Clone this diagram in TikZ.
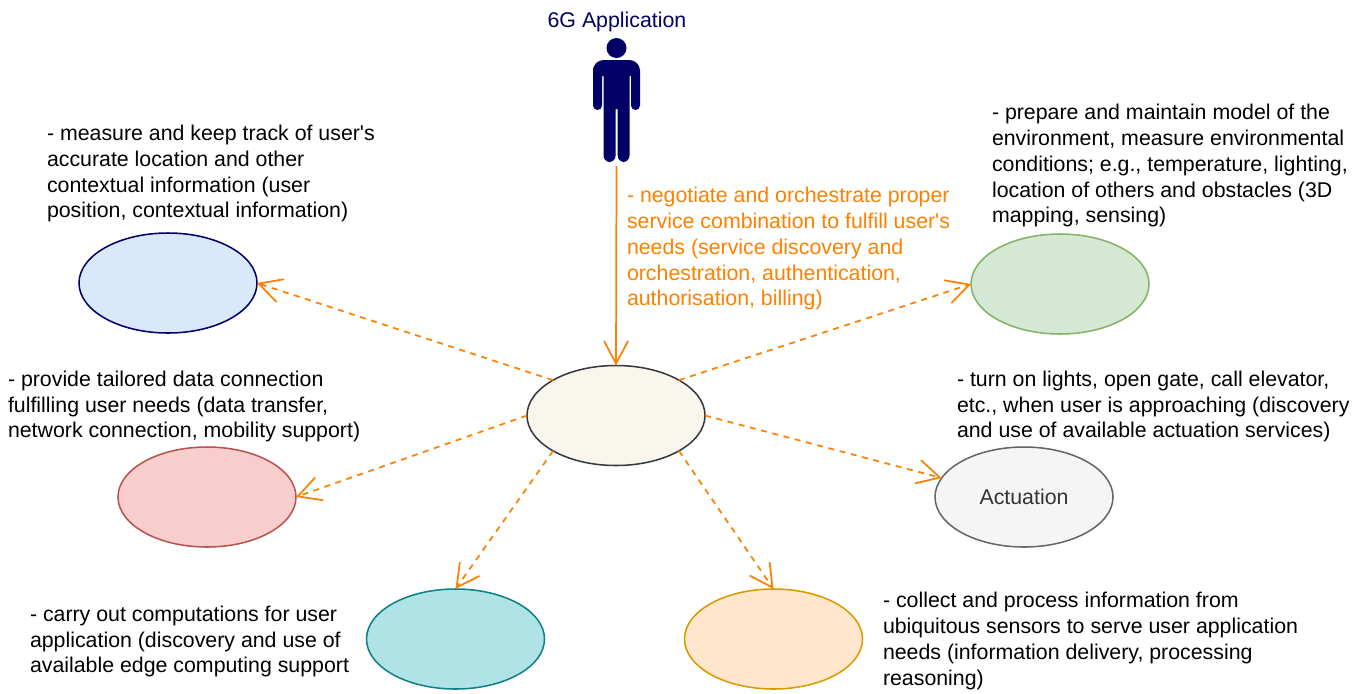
\documentclass[tikz,border=0pt]{standalone}
\usepackage{fontspec}
\setmainfont{Liberation Sans}[Ligatures=TeXOff]
\usetikzlibrary{shapes.geometric,arrows.meta}
\definecolor{navyc}{HTML}{000066}
\definecolor{orng}{HTML}{FF8000}
\tikzset{
  x=0.75pt,y=-0.75pt,
  blob/.style={ellipse,draw,line width=1.15pt,minimum width=133.5pt,minimum height=75pt,inner sep=0pt,outer sep=0pt},
  txt/.style={anchor=north west,align=left,inner sep=0pt,outer sep=0pt,font=\fontsize{16}{19.3}\selectfont,text=black},
  link/.style={draw=orng,line width=1.3pt,-{Straight Barb[length=17pt,width=18pt,line width=1.3pt]}},
  dlink/.style={link,dash pattern=on 4.5pt off 4.2pt},
}
\begin{document}
\begin{tikzpicture}
\useasboundingbox (0,0) rectangle (1362,693);
% ellipses
\node[blob,draw=navyc,fill={rgb,255:red,218;green,232;blue,252}] (loc) at (168,283) {};
\node[blob,draw={rgb,255:red,130;green,179;blue,102},fill={rgb,255:red,213;green,232;blue,212}] (env) at (1060,284) {};
\node[blob,draw={rgb,255:red,54;green,57;blue,61},fill={rgb,255:red,249;green,247;blue,237}] (core) at (616,415.5) {};
\node[blob,draw={rgb,255:red,184;green,84;blue,80},fill={rgb,255:red,248;green,206;blue,204}] (conn) at (207,497) {};
\node[blob,draw={rgb,255:red,102;green,102;blue,102},fill={rgb,255:red,245;green,245;blue,245},text={rgb,255:red,51;green,51;blue,51},font=\fontsize{16}{19}\selectfont] (act) at (1024,497) {Actuation};
\node[blob,draw={rgb,255:red,14;green,128;blue,136},fill={rgb,255:red,176;green,227;blue,230}] (edge) at (455.5,639) {};
\node[blob,draw={rgb,255:red,215;green,155;blue,0},fill={rgb,255:red,255;green,230;blue,204}] (sens) at (773.5,639) {};
% person
\fill[navyc] (616.5,48) circle[radius=10];
\fill[navyc,rounded corners=3.4pt]
  (593,72) [rounded corners=8pt] -- (593,60) -- (640,60) [rounded corners=3.4pt] -- (640,110) -- (631,110) [sharp corners] -- (631,76) -- (629.5,76)
  [rounded corners=4.8pt] -- (629.5,162) -- (617.7,162) [sharp corners] -- (617.7,109) -- (615.6,109)
  [rounded corners=4.8pt] -- (615.6,162) -- (603.5,162) [sharp corners] -- (603.5,76) -- (602,76)
  [rounded corners=3.4pt] -- (602,110) -- (593,110) -- cycle;
\coordinate (user) at (616.5,166);
% labels
\node[anchor=north,inner sep=0pt,font=\fontsize{16}{19}\selectfont,text=navyc] (title) at (617,11.5) {6G Application};
\node[txt] (t1) at (47,125.3) {- measure and keep track of user's\\accurate location and other\\contextual information (user\\position, contextual information)};
\node[txt] (t2) at (992,104.5) {- prepare and maintain model of the\\environment, measure environmental\\conditions; e.g., temperature, lighting,\\location of others and obstacles (3D\\mapping, sensing)};
\node[txt,text=orng] (t3) at (627,187.5) {- negotiate and orchestrate proper\\service combination to fulfill user's\\needs (service discovery and\\orchestration, authentication,\\authorisation, billing)};
\node[txt] (t4) at (8,371) {- provide tailored data connection\\fulfilling user needs (data transfer,\\network connection, mobility support)};
\node[txt] (t5) at (957,371) {- turn on lights, open gate, call elevator,\\etc., when user is approaching (discovery\\and use of available actuation services)};
\node[txt] (t6) at (30,606) {- carry out computations for user\\application (discovery and use of\\available edge computing support};
\node[txt] (t7) at (883,592.5) {- collect and process information from\\ubiquitous sensors to serve user application\\needs (information delivery, processing\\reasoning)};
% connectors
\draw[link] (user) -- (core.north);
\draw[dlink] (core.north west) -- (loc.east);
\draw[dlink] (core.north east) -- (env.west);
\draw[dlink] (core.west) -- (conn.east);
\draw[dlink] (core.east) -- (act.167);
\draw[dlink] (core.south west) -- (edge.north);
\draw[dlink] (core.south east) -- (sens.north);
\end{tikzpicture}
\end{document}
